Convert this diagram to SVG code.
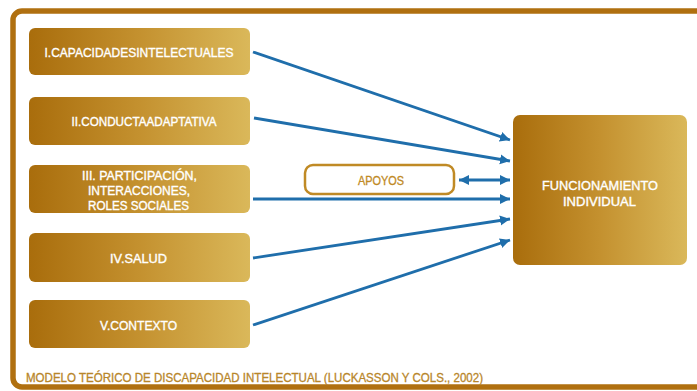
<svg xmlns="http://www.w3.org/2000/svg" width="697" height="391" viewBox="0 0 697 391">
<defs>
<linearGradient id="gold" x1="0" y1="0" x2="1" y2="0">
<stop offset="0" stop-color="#A96D0C"/>
<stop offset="0.5" stop-color="#C4912F"/>
<stop offset="1" stop-color="#DAB85A"/>
</linearGradient>
<marker id="ah" viewBox="0 0 10 10" refX="10" refY="5" markerWidth="10" markerHeight="11" markerUnits="userSpaceOnUse" orient="auto-start-reverse">
<path d="M0,0 L10,5 L0,10 Z" fill="#1F6EAB"/>
</marker>
</defs>
<style>
.box{fill:url(#gold);}
.t{font-family:"Liberation Sans",Arial,sans-serif;font-size:12px;fill:#ffffff;stroke:#ffffff;stroke-width:0.35;text-anchor:middle;}
.c{stroke:#1F6EAB;stroke-width:2.8;fill:none;marker-end:url(#ah);}
</style>
<rect x="13" y="11" width="700" height="376" rx="9" fill="#ffffff" stroke="#B07010" stroke-width="5.5"/>
<g id="n1"><rect class="box" x="29" y="28" width="221" height="47" rx="6"/><text class="t" x="139" y="57" textLength="189" lengthAdjust="spacingAndGlyphs">I.CAPACIDADESINTELECTUALES</text></g>
<g id="n2"><rect class="box" x="29" y="97" width="221" height="48" rx="6"/><text class="t" x="144" y="126" textLength="145" lengthAdjust="spacingAndGlyphs">II.CONDUCTAADAPTATIVA</text></g>
<g id="n3"><rect class="box" x="29" y="165" width="221" height="48" rx="6"/>
<text class="t" x="139.5" y="180" textLength="115" lengthAdjust="spacingAndGlyphs">III. PARTICIPACIÓN,</text>
<text class="t" x="139" y="195" textLength="102" lengthAdjust="spacingAndGlyphs">INTERACCIONES,</text>
<text class="t" x="138.5" y="210" textLength="101" lengthAdjust="spacingAndGlyphs">ROLES SOCIALES</text></g>
<g id="n4"><rect class="box" x="29" y="233" width="221" height="49" rx="6"/><text class="t" x="138.5" y="263" textLength="57" lengthAdjust="spacingAndGlyphs">IV.SALUD</text></g>
<g id="n5"><rect class="box" x="29" y="300" width="221" height="48" rx="6"/><text class="t" x="138.5" y="330" textLength="77" lengthAdjust="spacingAndGlyphs">V.CONTEXTO</text></g>
<g id="n6"><rect class="box" x="513" y="115" width="174" height="150" rx="7"/>
<text class="t" x="600" y="190" textLength="116" lengthAdjust="spacingAndGlyphs">FUNCIONAMIENTO</text>
<text class="t" x="599.5" y="206" textLength="73" lengthAdjust="spacingAndGlyphs">INDIVIDUAL</text></g>
<g id="apoyos"><rect x="305" y="165" width="149" height="29" rx="8" fill="#ffffff" stroke="#C08A25" stroke-width="2.5"/>
<text x="381" y="185" font-family="Liberation Sans, Arial, sans-serif" font-size="12" fill="#C08A25" stroke="#C08A25" stroke-width="0.3" text-anchor="middle" textLength="46" lengthAdjust="spacingAndGlyphs">APOYOS</text></g>
<g id="connectors">
<line class="c" x1="253" y1="52" x2="510" y2="140"/>
<line class="c" x1="254" y1="118" x2="510" y2="161"/>
<line class="c" x1="459" y1="180" x2="510" y2="180" marker-start="url(#ah)"/>
<line class="c" x1="253" y1="199" x2="510" y2="199"/>
<line class="c" x1="253" y1="258" x2="510" y2="219"/>
<line class="c" x1="253" y1="325" x2="510" y2="240"/>
</g>
<text x="26" y="382" font-family="Liberation Sans, Arial, sans-serif" font-size="12" fill="#B8862A" stroke="#B8862A" stroke-width="0.3" textLength="457" lengthAdjust="spacingAndGlyphs">MODELO TEÓRICO DE DISCAPACIDAD INTELECTUAL (LUCKASSON Y COLS., 2002)</text>
</svg>
